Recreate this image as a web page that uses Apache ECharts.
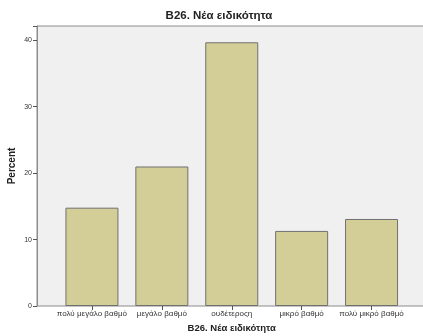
<!DOCTYPE html>
<html><head><meta charset="utf-8">
<script src="https://cdn.jsdelivr.net/npm/echarts@6/dist/echarts.min.js"></script>
<style>html,body{margin:0;padding:0;background:#fff}#c{width:423px;height:336px}</style>
</head><body><div id="c"></div>
<script>
const title = 'B26. Νέα ειδικότητα';
const categories = ['πολύ μεγάλο βαθμό', 'μεγάλο βαθμό', 'ουδέτεροςη', 'μικρό βαθμό', 'πολύ μικρό βαθμό'];
const percentValues = [14.8, 21.0, 39.7, 11.3, 13.1];
const yTicks = [0, 10, 20, 30, 40];

const chart = echarts.init(document.getElementById('c'), null, {renderer: 'canvas'});
const font = 'Liberation Sans, Arial, sans-serif';
chart.setOption({
  animation: false,
  backgroundColor: '#ffffff',
  title: {
    text: title, left: 214, top: 5, textAlign: 'center',
    textStyle: {fontFamily: font, fontSize: 11.5, fontWeight: 'bold', color: '#222'}
  },
  grid: [
    {left: 37, right: -2, top: 26, height: 280, show: true, backgroundColor: '#f0f0f0', borderColor: '#8c8c8c', borderWidth: 1, z: 0, containLabel: false, outerBoundsMode: 'none'},
    {left: 57, width: 349.5, top: 26, height: 280, containLabel: false, outerBoundsMode: 'none'}
  ],
  xAxis: [
    {gridIndex: 0, type: 'value', show: false, min: 0, max: 1},
    {gridIndex: 1, type: 'category', data: categories,
     axisLine: {show: false},
     axisTick: {show: true, alignWithLabel: true, length: 4, lineStyle: {color: '#555'}},
     axisLabel: {fontFamily: font, fontSize: 8, color: '#333', margin: 4, interval: 0},
     name: title, nameLocation: 'middle', nameGap: 16,
     nameTextStyle: {fontFamily: font, fontSize: 9.5, fontWeight: 'bold', color: '#222'}}
  ],
  yAxis: [
    {gridIndex: 0, type: 'value', show: false, min: 0, max: 1},
    {gridIndex: 1, type: 'value', min: 0, max: 42.15, interval: 10, offset: 20,
     axisLine: {show: true, lineStyle: {color: '#8c8c8c'}},
     axisTick: {show: true, length: 4, lineStyle: {color: '#555'}},
     axisLabel: {fontFamily: font, fontSize: 7, color: '#333', margin: 5,
       customValues: yTicks, formatter: v => yTicks.includes(v) ? String(v) : ''},
     splitLine: {show: false},
     name: 'Percent', nameLocation: 'middle', nameGap: 20, nameRotate: 90, nameMoveOverlap: false,
     nameTextStyle: {fontFamily: font, fontSize: 10, fontWeight: 'bold', color: '#222'}}
  ],
  series: [{
    type: 'bar', xAxisIndex: 1, yAxisIndex: 1, data: percentValues,
    barWidth: 53,
    itemStyle: {color: '#d3ce98', borderColor: '#707070', borderWidth: 1}
  }]
});
</script></body></html>
